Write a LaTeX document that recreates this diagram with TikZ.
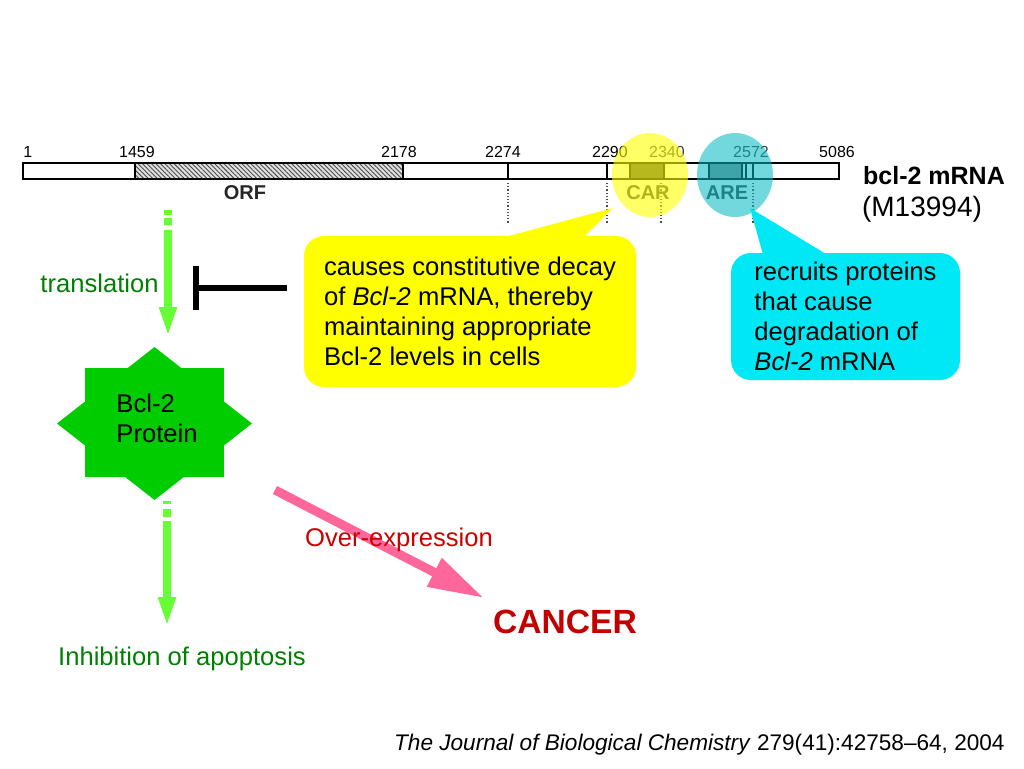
\documentclass[tikz,border=0pt]{standalone}
\usepackage{fontspec}
\setmainfont{Liberation Sans}
\usepackage{xcolor}
\usepackage{tikz}
\usetikzlibrary{arrows.meta,positioning,calc,patterns.meta}
\definecolor{protgreen}{RGB}{0,204,0}
\definecolor{arrgreen}{RGB}{102,255,51}
\definecolor{txtgreen}{RGB}{0,128,0}
\definecolor{overred}{RGB}{204,0,0}
\definecolor{pinkarr}{RGB}{255,102,153}
\definecolor{carYellow}{RGB}{255,255,0}
\definecolor{areCyan}{RGB}{0,232,245}
\definecolor{ringCyan}{RGB}{0,185,195}
\tikzset{
  % 正文字体
  body/.style={font=\fontsize{12.8}{15}\selectfont, inner sep=0pt},
  % 位置数字
  posnum/.style={font=\fontsize{8}{9}\selectfont, inner sep=0pt},
  % 区域名称
  region/.style={font=\fontsize{10}{12}\selectfont\bfseries, text=black!75, inner sep=0pt},
  % 说明框
  callout/.style={font=\fontsize{12.8}{15}\selectfont, rounded corners=10pt, align=left, inner sep=0pt},
  % 绿色箭头
  grnarr/.style={-{Triangle[length=15pt,width=8pt]}, line width=4pt, arrgreen},
  % 抑制线
  inhib/.style={-{Bar[width=22pt,line width=3pt]}, line width=2.6pt, black},
  % 虚线标记
  dots/.style={densely dotted, line width=0.6pt, black!70},
}
\begin{document}
\begin{tikzpicture}[x=0.5pt, y=-0.5pt]
    \fill[white] (0,0) rectangle (1024,768);
    \useasboundingbox (0,0) rectangle (1024,768);

    % mRNA 条
    \draw[line width=0.75pt, fill=white] (23,163) rectangle (839,179);
    \fill[black!12] (135,163) rectangle (403,179);
    \fill[pattern={Lines[angle=-45,distance=1.6pt,line width=0.45pt]}, pattern color=black!70] (135,163) rectangle (403,179);
    \fill[black!70] (630,163) rectangle (664,179);
    \fill[black!45] (709,163) rectangle (742,179);
    \foreach \x in {135,403,508,607,630,664,709,742,746,753}
        \draw[line width=0.75pt] (\x,163) -- (\x,179);
    \draw[line width=0.75pt] (23,163) rectangle (839,179);
    \foreach \x in {508,607,661,753}
        \draw[dots] (\x,183) -- (\x,224);

    % 位置数字
    \node[posnum, anchor=west] (p1) at (23,152) {1};
    \foreach \x/\t in {137/1459,399/2178,503/2274,610/2290,837/5086}
        \node[posnum] (p\t) at (\x,152) {\t};
    \node[posnum, text=black!75] (p2340) at (667,152) {2340};
    \node[posnum, text=black!75] (p2572) at (751,152) {2572};

    % 区域名称
    \node[region, text=black!85] (orf) at (245,193) {ORF};
    \node[region] (car) at (648,193) {CAR};
    \node[region] (are) at (727,193) {ARE};

    % 高亮圆
    \fill[carYellow, fill opacity=0.6] (650,175) ellipse [x radius=19pt, y radius=21pt];
    \fill[ringCyan, fill opacity=0.55] (735,175) ellipse [x radius=19pt, y radius=21pt];

    % 名称
    \node[font=\fontsize{12.5}{14}\selectfont\bfseries, inner sep=0pt] (mrna) at (934,176) {bcl-2 mRNA};
    \node[font=\fontsize{14}{16}\selectfont, inner sep=0pt] (acc) at (922,209) {(M13994)};

    % 说明框
    \node[callout, fill=carYellow, minimum width=166pt, minimum height=75.5pt] (carbox) at (470,311.5)
        {causes constitutive decay\\of \textit{Bcl-2} mRNA, thereby\\maintaining appropriate\\Bcl-2 levels in cells};
    \coordinate (cartip) at (613,208);
    \fill[carYellow] ([xshift=16.5pt,yshift=-1pt]carbox.north) -- (cartip) -- ([xshift=56.5pt,yshift=-1pt]carbox.north) -- cycle;

    \node[callout, fill=areCyan, minimum width=114.5pt, minimum height=63.5pt] (arebox) at (845.5,316.5)
        {recruits proteins\\that cause\\degradation of\\\textit{Bcl-2} mRNA};
    \coordinate (aretip) at (750,208);
    \fill[areCyan] ([xshift=-41.25pt,yshift=-1pt]arebox.north) -- (aretip) -- ([xshift=-9.25pt,yshift=-1pt]arebox.north) -- cycle;

    % 翻译
    \coordinate (transtop) at (168,210);
    \coordinate (transend) at (168,337);
    \draw[grnarr, dash pattern=on 2.5pt off 1.5pt on 3.5pt off 2.5pt on 300pt] (transtop) -- (transend);
    \node[body, text=txtgreen, anchor=east] (translbl) at (159,283) {translation};

    % 抑制
    \coordinate (inhstart) at (287,288);
    \coordinate (inhend) at (193,288);
    \draw[inhib] (inhstart) -- (inhend);

    % Bcl-2 蛋白
    \fill[protgreen] (154.5,347) -- (252,423.5) -- (154.5,500) -- (57,423.5) -- cycle;
    \fill[protgreen] (85,368) rectangle (224,477);
    \node[body, align=left] (prot) at (157,418) {Bcl-2\\Protein};

    % 抑制凋亡
    \coordinate (apotop) at (167,501);
    \coordinate (apoend) at (167,627);
    \draw[grnarr, dash pattern=on 1.5pt off 2.5pt on 4pt off 2pt on 300pt] (apotop) -- (apoend);
    \node[body, text=txtgreen] (apop) at (182,659) {Inhibition of apoptosis};

    % 过表达
    \coordinate (ovstart) at (275,490);
    \coordinate (ovend) at (484,598);
    \draw[-{Triangle[length=28pt,width=15pt]}, line width=4.5pt, pinkarr] (ovstart) -- (ovend);
    \node[body, text=overred] (overlbl) at (399,540) {Over-expression};
    \node[font=\fontsize{16.8}{20}\selectfont\bfseries, text=overred!95!black, inner sep=0pt] (cancer) at (565,622) {CANCER};

    % 文献
    \node[font=\fontsize{11.3}{13}\selectfont, anchor=east, inner sep=0pt] (cite) at (1005,745)
        {\textit{The Journal of Biological Chemistry} 279(41):42758–64, 2004};
\end{tikzpicture}
\end{document}
